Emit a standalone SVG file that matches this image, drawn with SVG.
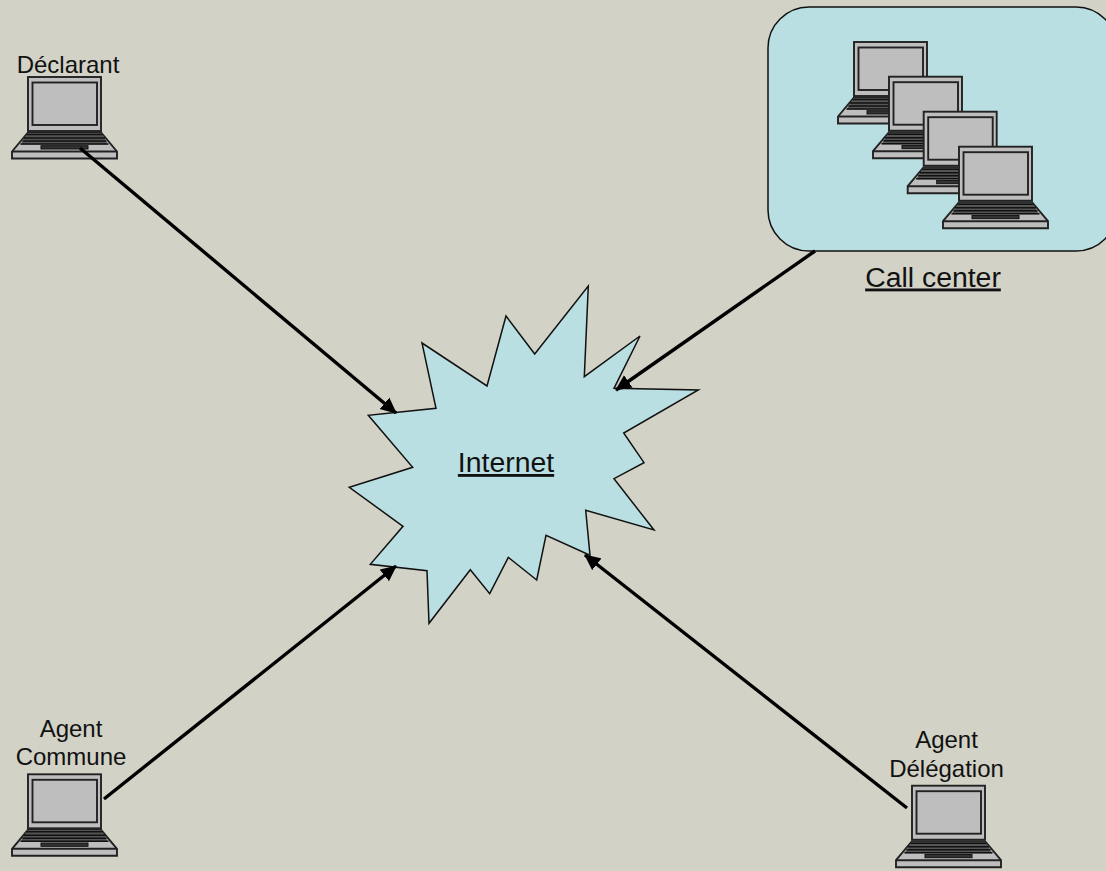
<svg xmlns="http://www.w3.org/2000/svg" width="1106" height="871" viewBox="0 0 1106 871">
<style>
.t{font-family:"Liberation Sans",Arial,sans-serif;fill:#111;text-anchor:middle}
.s{font-size:24px}.b{font-size:28.4px;text-decoration:underline}
.c{fill:none;stroke:#000;stroke-width:3.400}
.l{fill:#bebebe;stroke:#222;stroke-width:1.900}
.k{fill:#333;stroke:#111;stroke-width:1}
</style>
<defs>
<marker id="a" markerUnits="userSpaceOnUse" markerWidth="18" markerHeight="16" refX="15" refY="8" orient="auto"><path d="M0 0.500L16 8L0 15.500Z" fill="#000"/></marker>
<g id="laptop">
<path class="l" d="M-16 74.500L0 55.500H73L89 74.500V81.500H-16Z"/>
<path d="M-16 74.500H89" class="l"/>
<path d="M-0.500 56H73.500L80 67.500H-7.500Z" fill="#555"/>
<path d="M-1.500 57.500H74.500M-4 61H77M-5.500 64H78.500M-7.500 67H80.500" stroke="#111" stroke-width="1.500" fill="none"/>
<rect class="k" x="13" y="68.700" width="47" height="3.300"/>
<rect class="l" x="0" y="0" width="73" height="54"/>
<rect class="l" x="4.500" y="5.500" width="64.500" height="42.500"/>
</g>
</defs>
<rect width="1106" height="871" fill="#d2d2c6"/>
<g id="internet">
<path fill="#b9dfe2" stroke="#111" stroke-width="1.500" d="M588.300 286L584.300 376.700L640 336L614 388.300L698.300 390L623.700 433L644 462.700L614 478.700L654 530L585.700 510.300L590 555.300L546 535.300L536.700 580L508.300 557.300L489.700 593.700L470.300 569.700L429 623.300L427 570.700L370.300 564.300L403 526.300L349.300 487.300L412.700 467.300L368.300 415.300L436 408.300L422 343L487 386L506 316L534.700 354Z"/>
<text class="t b" x="506" y="472">Internet</text>
</g>
<g id="declarant">
<use href="#laptop" x="28" y="77"/>
<text class="t s" x="68" y="73">Déclarant</text>
</g>
<g id="call-center">
<rect x="768" y="7" width="349" height="244" rx="41" fill="#b9dfe2" stroke="#111" stroke-width="1.500"/>
<use href="#laptop" x="854" y="42"/>
<use href="#laptop" x="889" y="76.700"/>
<use href="#laptop" x="923.700" y="111.700"/>
<use href="#laptop" x="959" y="146.700"/>
<text class="t b" x="933" y="286.500">Call center</text>
</g>
<g id="agent-commune">
<use href="#laptop" x="28" y="774.300"/>
<text class="t s" x="71" y="737">Agent</text>
<text class="t s" x="71" y="765">Commune</text>
</g>
<g id="agent-delegation">
<use href="#laptop" x="912" y="785.700"/>
<text class="t s" x="946.500" y="748">Agent</text>
<text class="t s" x="946.500" y="777">Délégation</text>
</g>
<g id="connectors">
<path class="c" d="M80 148L396 413" marker-end="url(#a)"/>
<path class="c" d="M815 251L616 390" marker-end="url(#a)"/>
<path class="c" d="M104 799L396 566" marker-end="url(#a)"/>
<path class="c" d="M907 808L585 555" marker-end="url(#a)"/>
</g>
</svg>
